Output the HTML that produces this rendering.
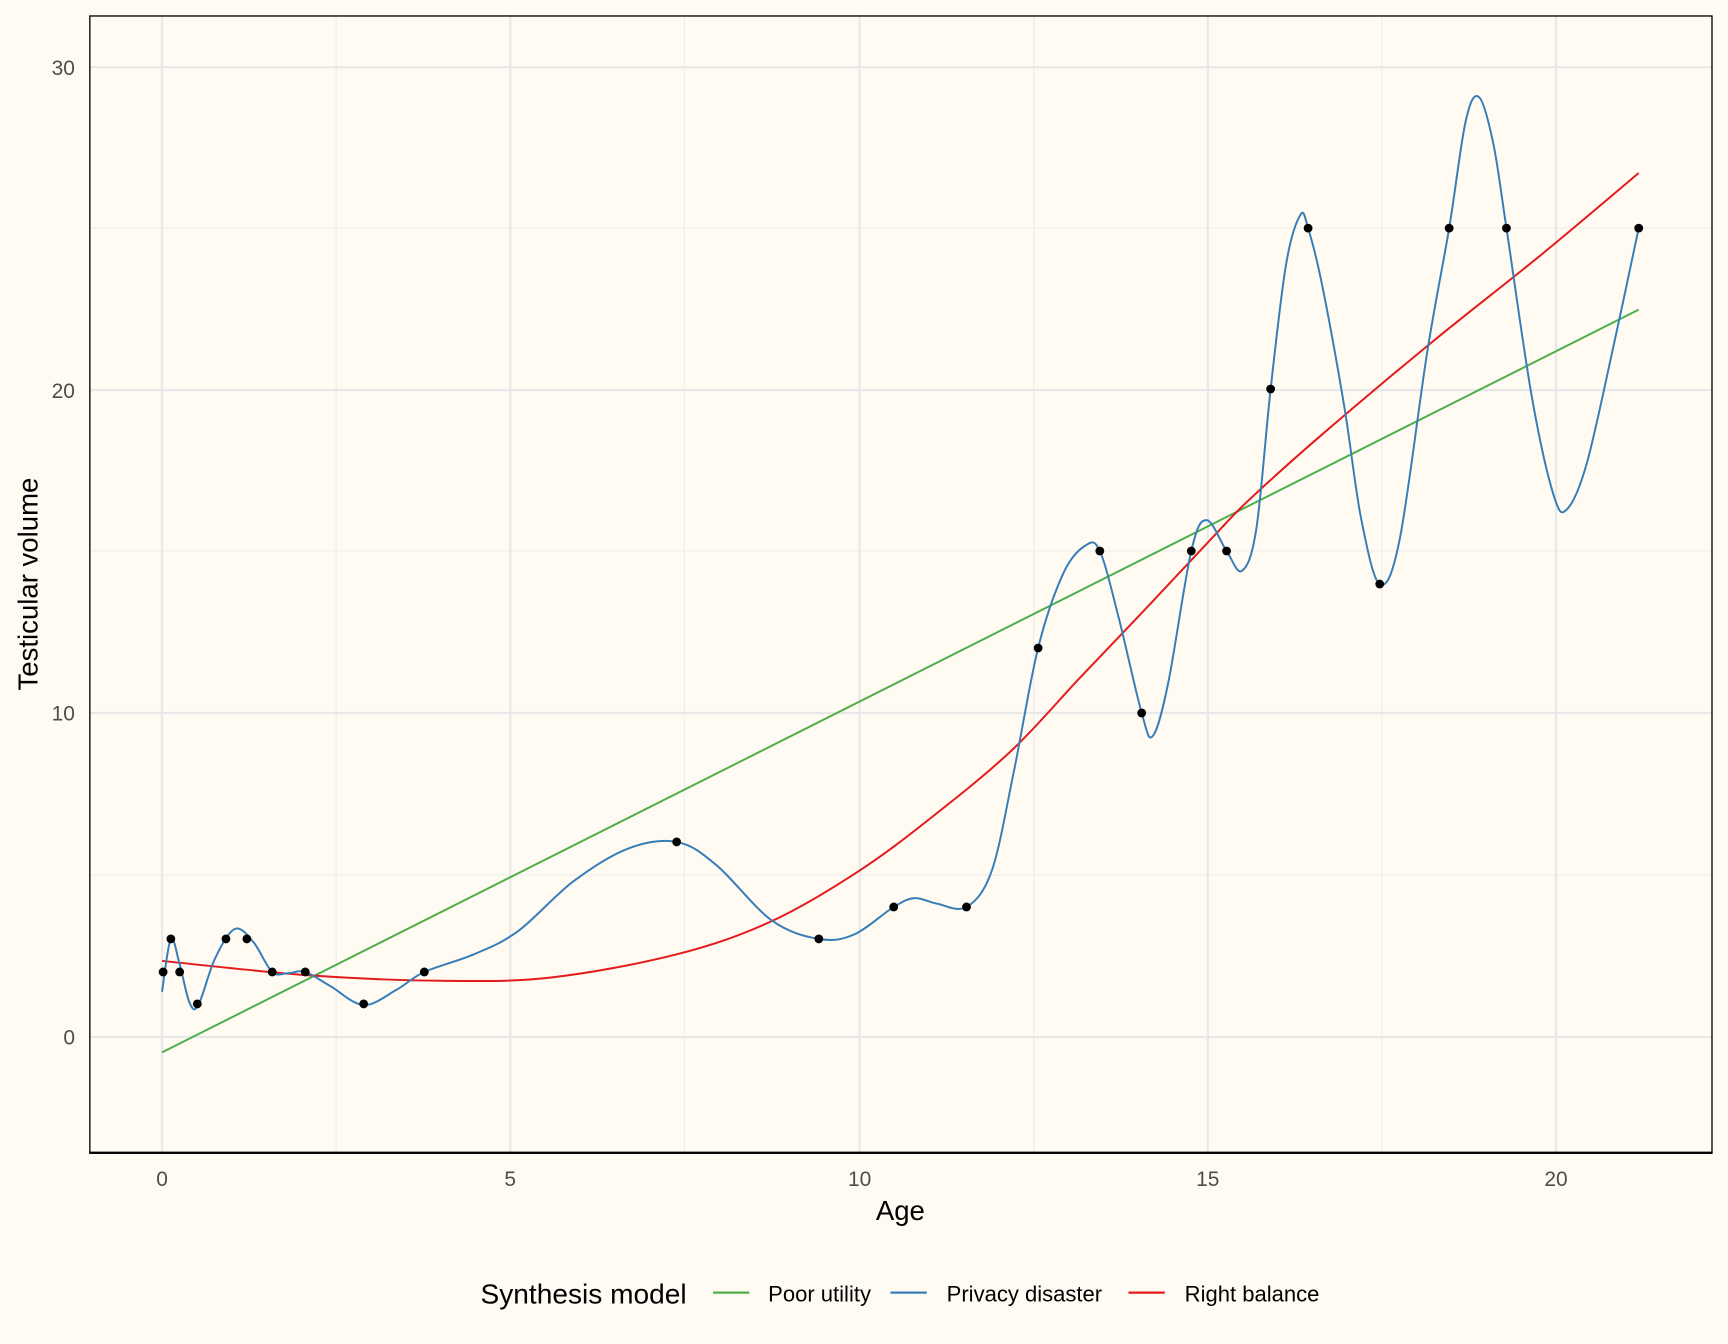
<!DOCTYPE html>
<html><head><meta charset="utf-8"><style>
html,body{margin:0;padding:0;background:#fffbf3;}
svg{display:block;font-family:"Liberation Sans",Arial,sans-serif;}
</style></head><body>
<svg width="1728" height="1344" viewBox="0 0 1568 1219.6" xmlns="http://www.w3.org/2000/svg">
<rect x="0" y="0" width="1568" height="1220" fill="#fffbf3"/>
<g stroke="#ececec" stroke-width="1">
<line x1="82" x2="1553" y1="794" y2="794"/><line x1="82" x2="1553" y1="500" y2="500"/><line x1="82" x2="1553" y1="207" y2="207"/>
<line y1="14" y2="1046" x1="305" x2="305"/><line y1="14" y2="1046" x1="621" x2="621"/><line y1="14" y2="1046" x1="938" x2="938"/><line y1="14" y2="1046" x1="1254" x2="1254"/>
</g>
<g stroke="#e8e8e8" stroke-width="2">
<line x1="82" x2="1553" y1="941" y2="941"/><line x1="82" x2="1553" y1="647" y2="647"/><line x1="82" x2="1553" y1="354" y2="354"/><line x1="82" x2="1553" y1="61" y2="61"/>
<line y1="14" y2="1046" x1="147" x2="147"/><line y1="14" y2="1046" x1="463" x2="463"/><line y1="14" y2="1046" x1="780" x2="780"/><line y1="14" y2="1046" x1="1096" x2="1096"/><line y1="14" y2="1046" x1="1412" x2="1412"/>
</g>
<rect x="81.5" y="14.5" width="1472" height="1032" fill="none" stroke="#000" stroke-width="1.2"/>
<line x1="81" x2="1554" y1="1046" y2="1046" stroke="#000" stroke-width="2"/>
<line x1="147" y1="955" x2="1487" y2="281" stroke="#4daf4a" stroke-width="1.8"/>
<path id="red" fill="none" stroke="#e41a1c" stroke-width="1.8"/>
<path id="blue" fill="none" stroke="#377eb8" stroke-width="1.8"/>
<g fill="#000" id="pts"></g>
<g font-size="19" fill="#4d4d4d" text-anchor="end">
<text x="68" y="948">0</text><text x="68" y="654">10</text><text x="68" y="361">20</text><text x="68" y="68">30</text>
</g>
<g font-size="19" fill="#4d4d4d" text-anchor="middle">
<text x="147" y="1076">0</text><text x="463" y="1076">5</text><text x="780" y="1076">10</text><text x="1096" y="1076">15</text><text x="1412" y="1076">20</text>
</g>
<text x="817" y="1107" font-size="25" text-anchor="middle">Age</text>
<text transform="translate(34,530) rotate(-90)" font-size="25" text-anchor="middle">Testicular volume</text>
<text x="436" y="1183" font-size="25.5">Synthesis model</text>
<line x1="647" x2="680" y1="1173" y2="1173" stroke="#4daf4a" stroke-width="2"/>
<text x="697" y="1181" font-size="20">Poor utility</text>
<line x1="808" x2="841" y1="1173" y2="1173" stroke="#377eb8" stroke-width="2"/>
<text x="859" y="1181" font-size="20">Privacy disaster</text>
<line x1="1024" x2="1057" y1="1173" y2="1173" stroke="#e41a1c" stroke-width="2"/>
<text x="1075" y="1181" font-size="20">Right balance</text>
</svg>
<script>
function cr(p){var d="M"+p[0][0]+","+p[0][1];for(var i=0;i<p.length-1;i++){var p0=p[i-1]||p[i],p1=p[i],p2=p[i+1],p3=p[i+2]||p2;
d+=" C"+(p1[0]+(p2[0]-p0[0])/6)+","+(p1[1]+(p2[1]-p0[1])/6)+" "+(p2[0]-(p3[0]-p1[0])/6)+","+(p2[1]-(p3[1]-p1[1])/6)+" "+p2[0]+","+p2[1];}return d;}
var red=[[147,872],[280,885],[400,890],[500,887],[614,866],[700,836],[780,790],[850,738],[919,680],[980,615],[1040,552],[1100,488],[1133,454],[1200,394],[1300,310],[1400,230],[1487,157]];
var blue=[[147,900],[155,852],[163,875],[172,910],[180,912],[195,870],[213,843],[230,855],[247,882],[262,883],[277,882],[300,895],[330,912],[360,898],[385,882],[430,866],[470,845],[520,800],[570,770],[614,764],[650,785],[700,835],[743,852],[775,848],[811,823],[830,815],[850,820],[877,823],[900,790],[920,700],[942,588],[965,520],[985,495],[998,500],[1015,560],[1036,647],[1046,668],[1060,620],[1081,500],[1095,472],[1113,500],[1127,518],[1140,480],[1153,353],[1167,240],[1180,195],[1187,207],[1200,260],[1220,370],[1235,470],[1252,530],[1270,490],[1295,320],[1315,207],[1330,110],[1342,88],[1355,130],[1367,207],[1390,360],[1410,450],[1422,462],[1440,420],[1465,310],[1487,207]];
document.getElementById("red").setAttribute("d",cr(red));
document.getElementById("blue").setAttribute("d",cr(blue));
var pts=[[148,882],[155,852],[163,882],[179,911],[205,852],[224,852],[247,882],[277,882],[330,911],[385,882],[614,764],[743,852],[811,823],[877,823],[942,588],[998,500],[1036,647],[1081,500],[1113,500],[1153,353],[1187,207],[1252,530],[1315,207],[1367,207],[1487,207]];
var g=document.getElementById("pts"),s="";pts.forEach(function(p){s+='<circle cx="'+p[0]+'" cy="'+p[1]+'" r="4"/>';});g.innerHTML=s;
</script>
</body></html>
